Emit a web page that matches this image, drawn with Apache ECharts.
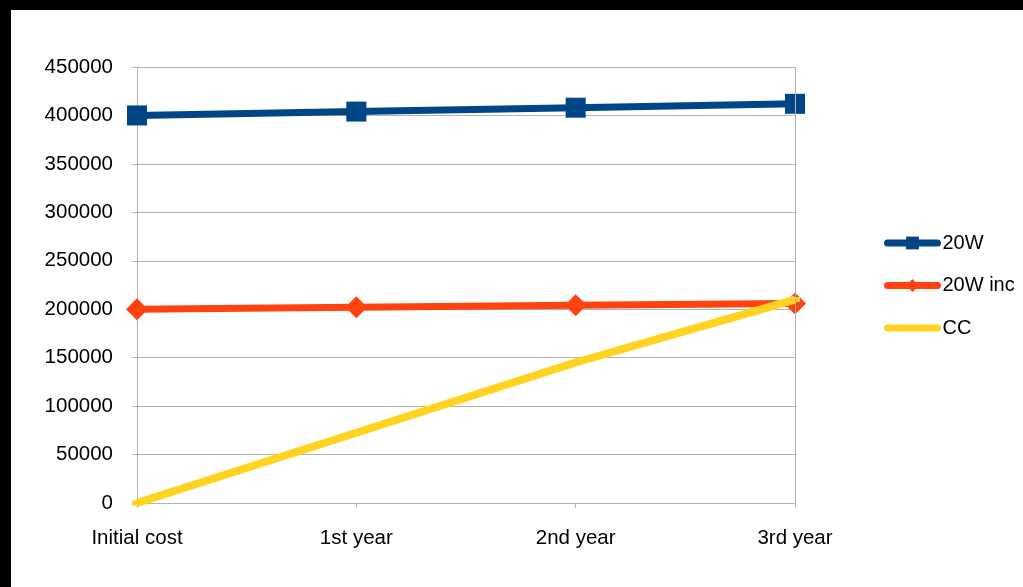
<!DOCTYPE html>
<html>
<head>
<meta charset="utf-8">
<script src="https://cdn.jsdelivr.net/npm/echarts@6/dist/echarts.min.js"></script>
<style>
html,body{margin:0;padding:0;background:#000;width:1023px;height:587px;overflow:hidden;}
#c{position:absolute;left:11px;top:10px;width:1012px;height:577px;background:#fff;}
</style>
</head>
<body>
<div id="c"></div>
<script>
const categories = ['Initial cost', '1st year', '2nd year', '3rd year'];
const s20W = [400000, 404000, 408000, 412000];
const s20Winc = [200000, 202000, 204000, 206000];
const sCC = [0, 72500, 145000, 210000];
const yTicks = {min: 0, max: 450000, interval: 50000};

const chart = echarts.init(document.getElementById('c'));
const font = 'Liberation Sans, Arial, sans-serif';
chart.setOption({
  backgroundColor: '#fff',
  animation: false,
  textStyle: {fontFamily: font},
  grid: {left: 126, right: 228, top: 57, bottom: 84},
  legend: {
    orient: 'vertical',
    left: 868, top: 218,
    itemWidth: 50, itemHeight: 16, itemGap: 22.5,
    lineStyle: {width: 7, cap: 'round'},
    textStyle: {fontSize: 20, color: '#000', fontFamily: font},
    data: ['20W', '20W inc', {name: 'CC', itemStyle: {opacity: 0}}]
  },
  xAxis: {
    type: 'category',
    data: categories,
    boundaryGap: false,
    axisLine: {lineStyle: {color: '#b3b3b3', width: 1}},
    axisTick: {show: true, length: 5, lineStyle: {color: '#b3b3b3'}},
    axisLabel: {color: '#000', fontSize: 20.5, margin: 25, fontFamily: font},
    splitLine: {show: false}
  },
  yAxis: {
    type: 'value',
    min: yTicks.min, max: yTicks.max, interval: yTicks.interval,
    axisLine: {show: true, lineStyle: {color: '#b3b3b3', width: 1}},
    axisTick: {show: true, length: 5, lineStyle: {color: '#b3b3b3'}},
    axisLabel: {color: '#000', fontSize: 20.5, margin: 24, fontFamily: font,
                formatter: v => String(v)},
    splitLine: {show: true, lineStyle: {color: '#b3b3b3', width: 1}}
  },
  series: [
    {name: '20W', type: 'line', data: s20W, color: '#004586', clip: false,
     lineStyle: {width: 7, color: '#004586'}, symbol: 'rect', symbolSize: 20,
     itemStyle: {color: '#004586'}, z: 3},
    {name: '20W inc', type: 'line', data: s20Winc, color: '#ff420e', clip: false,
     lineStyle: {width: 7, color: '#ff420e'}, symbol: 'diamond', symbolSize: [22, 22],
     itemStyle: {color: '#ff420e'}, z: 2},
    {name: 'CC', type: 'line', data: sCC, color: '#ffd320', clip: false,
     lineStyle: {width: 8, color: '#ffd320'}, symbol: 'rect', symbolSize: [10, 5],
     itemStyle: {color: '#ffd320'}, z: 4},
    {type: 'line', data: [], markLine: {silent: true, symbol: 'none', label: {show: false},
      lineStyle: {color: '#b3b3b3', width: 1, type: 'solid'},
      data: [{xAxis: categories[categories.length - 1]}]}}
  ]
});
</script>
</body>
</html>
